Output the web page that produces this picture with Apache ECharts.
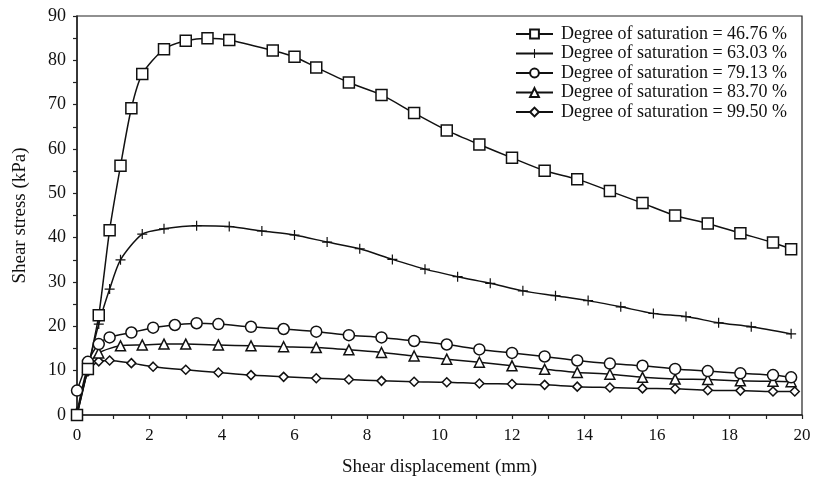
<!DOCTYPE html>
<html>
<head>
<meta charset="utf-8">
<script src="https://cdn.jsdelivr.net/npm/echarts@6/dist/echarts.min.js"></script>
<style>
  html, body { margin: 0; padding: 0; background: #fff; }
  #chart { width: 819px; height: 477px; }
</style>
</head>
<body>
<div id="chart"></div>
<script>
// shear displacement (mm) / shear stress (kPa)
const names = [
  'Degree of saturation = 46.76 %',
  'Degree of saturation = 63.03 %',
  'Degree of saturation = 79.13 %',
  'Degree of saturation = 83.70 %',
  'Degree of saturation = 99.50 %'
]

const x1 = [0, 0.3, 0.6, 0.9, 1.2, 1.5, 1.8, 2.4, 3.0, 3.6, 4.2, 5.4, 6.0, 6.6, 7.5, 8.4, 9.3, 10.2, 11.1, 12.0, 12.9, 13.8, 14.7, 15.6, 16.5, 17.4, 18.3, 19.2, 19.7]
const y1 = [0, 10.4, 22.5, 41.7, 56.2, 69.2, 76.9, 82.5, 84.4, 85.0, 84.6, 82.2, 80.8, 78.4, 75.0, 72.2, 68.1, 64.2, 61.0, 58.0, 55.1, 53.2, 50.5, 47.8, 45.0, 43.2, 41.0, 38.9, 37.4]

const x2 = [0, 0.3, 0.6, 0.9, 1.2, 1.8, 2.4, 3.3, 4.2, 5.1, 6.0, 6.9, 7.8, 8.7, 9.6, 10.5, 11.4, 12.3, 13.2, 14.1, 15.0, 15.9, 16.8, 17.7, 18.6, 19.7]
const y2 = [0, 10.6, 20.5, 28.4, 35.0, 40.8, 42.0, 42.7, 42.5, 41.5, 40.6, 39.0, 37.5, 35.1, 32.9, 31.2, 29.7, 28.0, 26.9, 25.8, 24.4, 22.9, 22.2, 20.8, 19.9, 18.3]

const x3 = [0, 0.3, 0.6, 0.9, 1.5, 2.1, 2.7, 3.3, 3.9, 4.8, 5.7, 6.6, 7.5, 8.4, 9.3, 10.2, 11.1, 12.0, 12.9, 13.8, 14.7, 15.6, 16.5, 17.4, 18.3, 19.2, 19.7]
const y3 = [5.5, 12.0, 16.0, 17.5, 18.6, 19.7, 20.3, 20.7, 20.5, 19.9, 19.4, 18.8, 18.0, 17.5, 16.7, 15.9, 14.8, 14.0, 13.2, 12.3, 11.6, 11.1, 10.4, 9.9, 9.4, 9.0, 8.5]

const x4 = [0, 0.3, 0.6, 1.2, 1.8, 2.4, 3.0, 3.9, 4.8, 5.7, 6.6, 7.5, 8.4, 9.3, 10.2, 11.1, 12.0, 12.9, 13.8, 14.7, 15.6, 16.5, 17.4, 18.3, 19.2, 19.7]
const y4 = [0.5, 10.9, 14.0, 15.6, 15.8, 16.0, 16.0, 15.8, 15.6, 15.4, 15.2, 14.7, 14.1, 13.3, 12.6, 11.9, 11.1, 10.3, 9.6, 9.2, 8.5, 8.1, 8.0, 7.7, 7.6, 7.5]

const x5 = [0, 0.3, 0.6, 0.9, 1.5, 2.1, 3.0, 3.9, 4.8, 5.7, 6.6, 7.5, 8.4, 9.3, 10.2, 11.1, 12.0, 12.9, 13.8, 14.7, 15.6, 16.5, 17.4, 18.3, 19.2, 19.8]
const y5 = [0, 9.8, 12.1, 12.3, 11.7, 10.9, 10.2, 9.6, 9.0, 8.6, 8.3, 8.0, 7.7, 7.5, 7.4, 7.1, 7.0, 6.8, 6.4, 6.2, 6.0, 5.9, 5.6, 5.5, 5.3, 5.3]

const xTicks = [0, 2, 4, 6, 8, 10, 12, 14, 16, 18, 20]
const yTicks = [0, 10, 20, 30, 40, 50, 60, 70, 80, 90]

const plusPath = 'path://M4.4,0h1.2v4.4h4.4v1.2h-4.4v4.4h-1.2v-4.4h-4.4v-1.2h4.4z'
const fontFamily = '"Liberation Serif", "DejaVu Serif", serif'

function pairs(xs, ys) {
  return xs.map((x, i) => [x, ys[i]])
}

function makeSeries(name, xs, ys, symbol, size, filled) {
  return {
    name: name,
    type: 'line',
    smooth: 0.25,
    data: pairs(xs, ys),
    symbol: symbol,
    symbolSize: size,
    showAllSymbol: true,
    lineStyle: { color: '#111', width: 1.5 },
    itemStyle: {
      color: filled ? '#111' : '#fff',
      borderColor: '#111',
      borderWidth: filled ? 0 : 1.5
    },
    emphasis: { disabled: true }
  }
}

const chart = echarts.init(document.getElementById('chart'), null, { renderer: 'canvas' })

const option = {
  backgroundColor: '#fff',
  animation: false,
  textStyle: { fontFamily: fontFamily, color: '#111' },
  grid: {
    left: 77,
    right: 17,
    top: 16,
    bottom: 62,
    outerBoundsMode: 'none',
    containLabel: false,
    show: true,
    borderColor: '#222',
    borderWidth: 1.2
  },
  legend: {
    orient: 'vertical',
    left: 515,
    top: 25,
    padding: 0,
    itemWidth: 37,
    itemHeight: 11,
    itemGap: 1.5,
    textStyle: { fontFamily: fontFamily, fontSize: 18, color: '#111', lineHeight: 18, padding: [0, 0, 0, 3] },
    data: names
  },
  xAxis: {
    type: 'value',
    min: 0,
    max: 20,
    interval: 2,
    name: 'Shear displacement (mm)',
    nameLocation: 'middle',
    nameGap: 43,
    nameTextStyle: { fontFamily: fontFamily, fontSize: 19, color: '#111' },
    axisLine: { show: true, lineStyle: { color: '#222', width: 1.5 } },
    axisTick: { show: true, length: 4, lineStyle: { color: '#222', width: 1.2 } },
    minorTick: { show: true, splitNumber: 2, length: 4, lineStyle: { color: '#222', width: 1.2 } },
    splitLine: { show: false },
    axisLabel: {
      fontFamily: fontFamily, fontSize: 17, color: '#111', margin: 12,
      formatter: v => xTicks.includes(v) ? String(v) : ''
    }
  },
  yAxis: {
    type: 'value',
    min: 0,
    max: 90,
    interval: 10,
    name: 'Shear stress (kPa)',
    nameLocation: 'middle',
    nameGap: 47,
    nameTextStyle: { fontFamily: fontFamily, fontSize: 19, color: '#111' },
    axisLine: { show: true, lineStyle: { color: '#222', width: 1.5 } },
    axisTick: { show: true, length: 4, lineStyle: { color: '#222', width: 1.2 } },
    minorTick: { show: true, splitNumber: 2, length: 4, lineStyle: { color: '#222', width: 1.2 } },
    splitLine: { show: false },
    axisLabel: {
      fontFamily: fontFamily, fontSize: 18, color: '#111', margin: 11,
      formatter: v => yTicks.includes(v) ? String(v) : ''
    }
  },
  series: [
    makeSeries(names[4], x5, y5, 'diamond', 9, false),
    makeSeries(names[3], x4, y4, 'triangle', 10, false),
    makeSeries(names[2], x3, y3, 'circle', 11, false),
    makeSeries(names[1], x2, y2, plusPath, 10, true),
    makeSeries(names[0], x1, y1, 'rect', 11, false)
  ]
}

chart.setOption(option)
</script>
</body>
</html>
